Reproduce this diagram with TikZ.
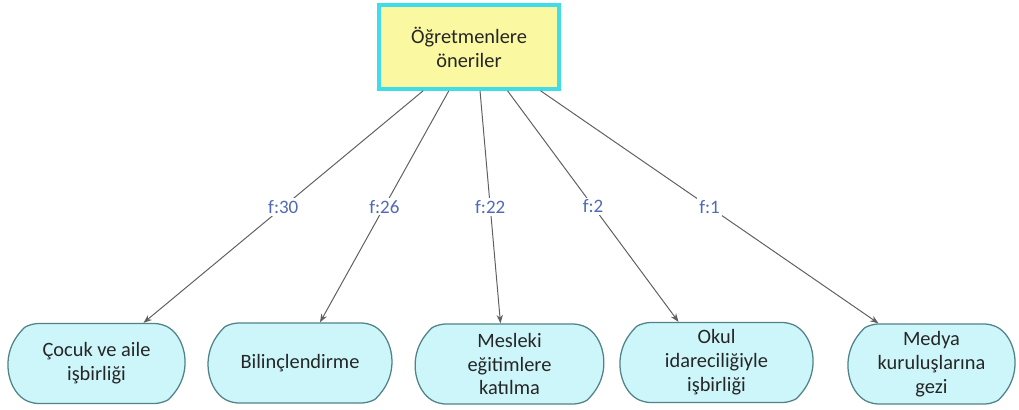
\documentclass[tikz,border=0pt]{standalone}
\usepackage{fontspec}
\setmainfont{Carlito}
\usetikzlibrary{arrows.meta, calc, positioning, shapes.misc}

\definecolor{topfill}{RGB}{250,248,160}
\definecolor{topline}{RGB}{64,220,232}
\definecolor{leaffill}{RGB}{205,246,250}
\definecolor{leafline}{RGB}{80,130,135}
\definecolor{flabcol}{RGB}{80,105,185}
\definecolor{conncol}{RGB}{95,95,95}

\begin{document}
\begin{tikzpicture}[x=0.025cm, y=-0.025cm]

\tikzset{
  % the yellow box on top
  topbox/.style={draw=topline, line width=2.6pt, fill=topfill,
    minimum width=4.5cm, minimum height=2.1cm, align=center,
    font=\fontsize{14.5}{17}\selectfont, text=black!85},
  % the answer boxes below
  leafbox/.style={rounded rectangle, rounded rectangle arc length=120,
    rounded corners=5pt,
    draw=leafline, line width=0.9pt, fill=leaffill,
    minimum height=2cm, align=center,
    font=\fontsize{14.5}{17}\selectfont, text=black!85},
  % frequency on each connector
  flabel/.style={fill=white, inner sep=1.5pt, text=flabcol,
    font=\fontsize{13.5}{15}\selectfont},
  conn/.style={draw=conncol, line width=0.7pt,
    -{Stealth[length=6pt, width=4.5pt]}},
}

\useasboundingbox (0,0) rectangle (1019,409);

\node[topbox] (top) at (469,47) {Öğretmenlere\\öneriler};

\node[leafbox, minimum width=4.65cm] (b1) at (96.5,363.5) {Çocuk ve aile\\işbirliği};
\node[leafbox, minimum width=4.82cm] (b2) at (300,363) {Bilinçlendirme};
\node[leafbox, minimum width=4.94cm] (b3) at (509.5,364) {Mesleki\\eğitimlere\\katılma};
\node[leafbox, minimum width=5.05cm] (b4) at (716.5,362.5) {Okul\\idareciliğiyle\\işbirliği};
\node[leafbox, minimum width=4.4cm] (b5) at (931.5,364) {Medya\\kuruluşlarına\\gezi};

\draw[conn] ($(top.south west)!0.25!(top.south east)$) -- node[flabel] {f:30} ($(b1.north)+(47,0)$);
\draw[conn] ($(top.south west)!0.39!(top.south east)$) -- node[flabel] {f:26} ($(b2.north)+(20,0)$);
\draw[conn] ($(top.south west)!0.56!(top.south east)$) -- node[flabel] {f:22} ($(b3.north)+(-9,0)$);
\draw[conn] ($(top.south west)!0.71!(top.south east)$) -- node[flabel] {f:2} ($(b4.north)+(-38,0)$);
\draw[conn] ($(top.south west)!0.89!(top.south east)$) -- node[flabel] {f:1} ($(b5.north)+(-53,0)$);

\end{tikzpicture}
\end{document}
